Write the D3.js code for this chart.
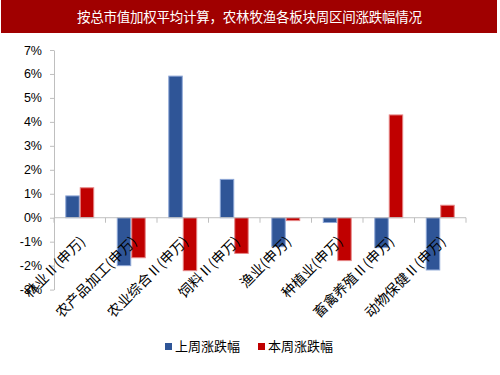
<!DOCTYPE html>
<html>
<head>
<meta charset="utf-8">
<script src="https://cdn.jsdelivr.net/npm/d3@7"></script>
<style>
  body { margin: 0; background: #fff; }
  svg { display: block; }
</style>
</head>
<body>
<div id="chart"></div>
<script>
const title = "按总市值加权平均计算，农林牧渔各板块周区间涨跌幅情况";
const categories = ["林业Ⅱ(申万)", "农产品加工(申万)", "农业综合Ⅱ(申万)", "饲料Ⅱ(申万)",
  "渔业(申万)", "种植业(申万)", "畜禽养殖Ⅱ(申万)", "动物保健Ⅱ(申万)"];
const seriesNames = ["上周涨跌幅", "本周涨跌幅"];
const lastWeek = [0.91, -2.0, 5.91, 1.60, -1.21, -0.20, -1.25, -2.18];
const thisWeek = [1.25, -1.67, -2.21, -1.49, -0.12, -1.79, 4.29, 0.52];
const yTicks = [-3, -2, -1, 0, 1, 2, 3, 4, 5, 6, 7];
const colors = ["#2f5597", "#c00000"];
const borders = ["#8da6d6", "#e58585"];

const width = 500, height = 375;
const cjk = "'Noto Sans CJK SC', 'Noto Sans', sans-serif";

const svg = d3.select("#chart").append("svg")
  .attr("width", width)
  .attr("height", height);

// title band
svg.append("rect")
  .attr("x", 1).attr("y", 0)
  .attr("width", 496).attr("height", 33)
  .attr("fill", "#a00000");
svg.append("text")
  .attr("x", 77).attr("y", 17)
  .attr("dy", "0.35em")
  .attr("textLength", 345)
  .attr("lengthAdjust", "spacing")
  .style("font-family", cjk)
  .style("font-size", "13.5px")
  .attr("fill", "#fff")
  .text(title);

const x = d3.scaleBand().domain(categories).range([54, 466]);
const x1 = d3.scaleBand().domain(seriesNames).range([0, x.bandwidth()]).paddingOuter(0.78);
const y = d3.scaleLinear().domain([-3, 7]).range([289.6, 50]);

// y axis
const yAxis = svg.append("g")
  .attr("transform", "translate(54,0)")
  .call(d3.axisLeft(y).tickValues(yTicks).tickSize(4).tickSizeOuter(0).tickPadding(8)
    .tickFormat(d => d + "%"));
yAxis.select(".domain").attr("stroke", "#bfbfbf");
yAxis.selectAll(".tick line").attr("stroke", "#bfbfbf");
yAxis.selectAll(".tick text")
  .style("font-family", "'Liberation Sans', Arial, sans-serif")
  .style("font-size", "12.5px")
  .attr("fill", "#000");

// bars
const rows = categories.map((c, i) => ({ cat: c, values: [lastWeek[i], thisWeek[i]] }));
const group = svg.selectAll(".cat")
  .data(rows)
  .enter().append("g")
  .attr("class", "cat")
  .attr("transform", d => `translate(${x(d.cat)},0)`);

group.selectAll("rect")
  .data(d => d.values.map((v, k) => ({ name: seriesNames[k], value: v, k: k })))
  .enter().append("rect")
  .attr("x", d => x1(d.name) + 0.5)
  .attr("width", x1.bandwidth() - 1)
  .attr("y", d => y(Math.max(0, d.value)))
  .attr("height", d => Math.abs(y(d.value) - y(0)))
  .attr("fill", d => colors[d.k])
  .attr("stroke", d => borders[d.k])
  .attr("stroke-width", 1);

// zero line with category ticks
const xAxis = svg.append("g")
  .attr("transform", `translate(0,${y(0)})`);
xAxis.append("line")
  .attr("x1", x.range()[0]).attr("x2", x.range()[1])
  .attr("stroke", "#bfbfbf");
xAxis.selectAll(".xtick")
  .data(categories.map(c => x(c)).concat([x.range()[1]]))
  .enter().append("line")
  .attr("class", "xtick")
  .attr("x1", d => d).attr("x2", d => d)
  .attr("y1", 0).attr("y2", 5)
  .attr("stroke", "#bfbfbf");

// rotated category labels
svg.selectAll(".xlabel")
  .data(categories)
  .enter().append("text")
  .attr("class", "xlabel")
  .attr("transform", d => `translate(${x(d) + x.bandwidth() / 2 + 3},239) rotate(-45)`)
  .attr("text-anchor", "end")
  .attr("dy", "0.35em")
  .style("font-family", cjk)
  .style("font-size", "14px")
  .attr("fill", "#000")
  .text(d => d);

// legend
const legendX = [165, 258];
const legend = svg.selectAll(".legend")
  .data(seriesNames)
  .enter().append("g")
  .attr("class", "legend")
  .attr("transform", (d, i) => `translate(${legendX[i]},343)`);
legend.append("rect")
  .attr("width", 7).attr("height", 7)
  .attr("fill", (d, i) => colors[i]);
legend.append("text")
  .attr("x", 10).attr("y", 3.5)
  .attr("dy", "0.35em")
  .style("font-family", cjk)
  .style("font-size", "13px")
  .attr("fill", "#000")
  .text(d => d);
</script>
</body>
</html>
